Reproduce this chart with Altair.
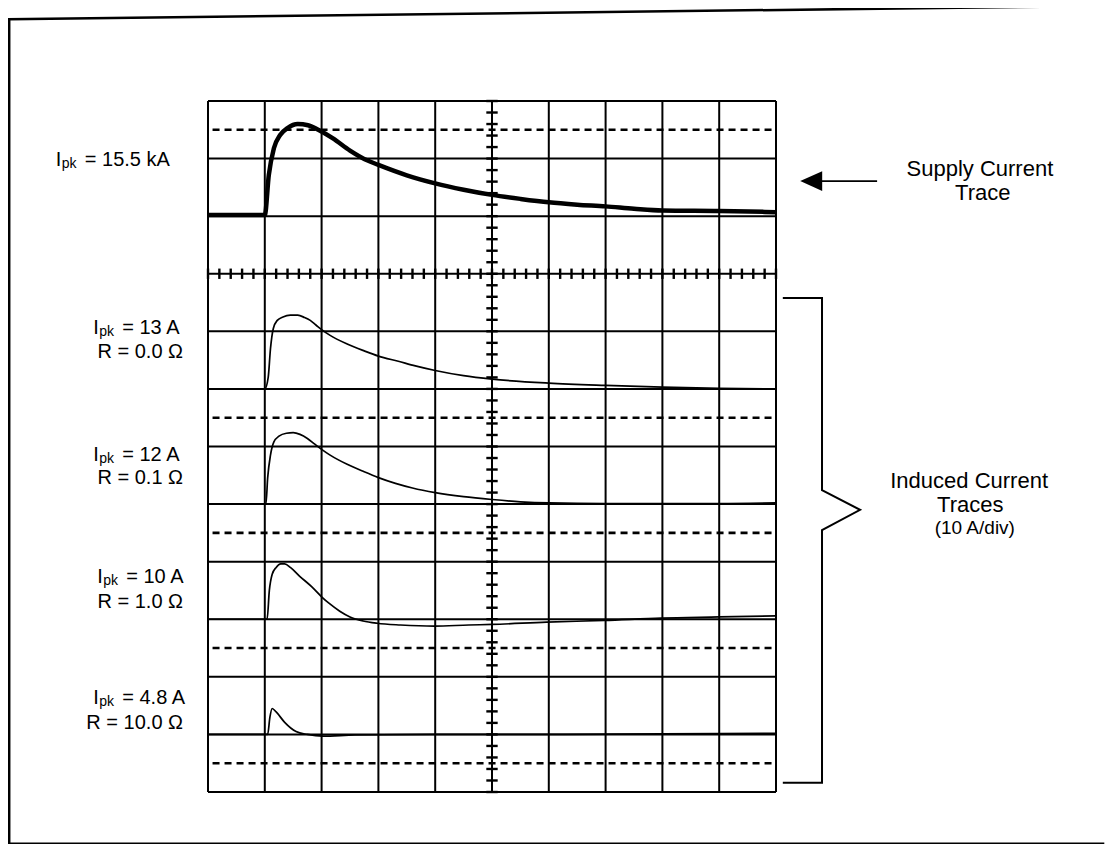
import altair as alt
import pandas as pd
import numpy as np

# ---------------- data ----------------
# time in screen divisions (0..10), current in trace units
supply_t = [0.0, 1.0, 1.07, 1.16, 1.27, 1.40, 1.58, 1.76, 1.94, 2.2, 2.5, 2.8, 3.0,
            3.5, 4.0, 4.5, 5.0, 5.5, 6.0, 6.5, 7.0, 7.5, 8.0, 9.0, 10.0]
supply_kA = [0.2, 0.2, 7.1, 11.8, 14.1, 15.3, 16.0, 15.8, 15.0, 13.5, 11.4, 9.7, 8.9,
             7.1, 5.7, 4.6, 3.7, 3.0, 2.4, 2.0, 1.7, 1.3, 1.0, 0.9, 0.7]

r00_t = [0.0, 1.0, 1.06, 1.1, 1.15, 1.22, 1.32, 1.45, 1.58, 1.7, 1.8, 1.9, 2.0, 2.15,
         2.45, 2.75, 3.0, 3.35, 3.65, 4.0, 4.5, 5.0, 6.0, 7.0, 8.0, 9.0, 10.0]
r00_A = [0.0, 0.0, 2.0, 7.0, 10.5, 11.9, 12.5, 12.8, 12.8, 12.4, 11.9, 11.1, 10.3, 9.3,
         7.8, 6.6, 5.7, 4.8, 4.0, 3.2, 2.3, 1.7, 1.0, 0.6, 0.3, 0.1, 0.0]

r01_t = [0.0, 1.02, 1.05, 1.1, 1.16, 1.25, 1.38, 1.5, 1.62, 1.75, 1.88, 2.0, 2.15,
         2.45, 2.75, 3.0, 3.3, 3.6, 4.0, 4.5, 5.0, 5.5, 6.0, 7.0, 8.0, 9.0, 10.0]
r01_A = [0.0, 0.0, 4.5, 8.5, 10.8, 11.8, 12.3, 12.4, 12.1, 11.4, 10.4, 9.5, 8.5,
         6.9, 5.6, 4.6, 3.6, 2.8, 2.0, 1.3, 0.8, 0.4, 0.2, 0.1, 0.1, 0.1, 0.2]

r10_t = [0.0, 1.04, 1.08, 1.13, 1.2, 1.28, 1.35, 1.45, 1.61, 1.82, 2.0, 2.14, 2.32,
         2.5, 2.73, 2.98, 3.39, 3.98, 4.59, 5.0, 5.96, 6.98, 7.98, 9.0, 10.0]
r10_A = [0.0, 0.0, 5.0, 7.8, 9.0, 9.6, 9.6, 9.0, 7.5, 5.7, 3.9, 2.7, 1.4,
         0.4, -0.3, -0.7, -1.0, -1.2, -1.0, -0.9, -0.5, -0.2, 0.2, 0.4, 0.6]

r100_t = [0.0, 1.05, 1.09, 1.13, 1.2, 1.35, 1.55, 1.75, 2.02, 2.59, 4.0, 6.0, 8.0, 10.0]
r100_A = [0.0, 0.0, 3.0, 4.5, 3.9, 2.1, 0.5, 0.0, -0.3, -0.1, 0.0, 0.0, 0.1, 0.2]

ipk_values = ["= 15.5 kA", "= 13 A", "= 12 A", "= 10 A", "= 4.8 A"]
r_values = ["R = 0.0 Ω", "R = 0.1 Ω", "R = 1.0 Ω", "R = 10.0 Ω"]

# ---------------- layout (screen divisions) ----------------
N_X, N_Y = 10, 12
baselines = [10, 7, 5, 3, 1]          # zero line of each trace
units_per_div = 10                    # 10 kA/div and 10 A/div
dashed_rows = [0.5, 2.5, 4.5, 6.5, 11.5]
center_x, tick_row = 5, 9

W, H = 568, 691
xs = alt.Scale(domain=[0, N_X], range=[0, W], nice=False, zero=False)
ys = alt.Scale(domain=[0, N_Y], range=[H, 0], nice=False, zero=False)
FONT = "Liberation Sans"


def X(f="x"):
    return alt.X(f"{f}:Q", scale=xs, axis=None)


def Y(f="y"):
    return alt.Y(f"{f}:Q", scale=ys, axis=None)


# ---------------- traces ----------------
rows = []
series = [("supply", supply_t, supply_kA), ("r00", r00_t, r00_A), ("r01", r01_t, r01_A),
          ("r10", r10_t, r10_A), ("r100", r100_t, r100_A)]
for (name, ts, vs), base in zip(series, baselines):
    for i, (t, v) in enumerate(zip(ts, vs)):
        rows.append({"trace": name, "i": i, "x": t, "y": base + v / units_per_div})
traces = pd.DataFrame(rows)

supply_line = alt.Chart(traces[traces.trace == "supply"]).mark_line(
    color="black", strokeWidth=4.5, interpolate="monotone"
).encode(x=X(), y=Y(), order="i:Q")

induced_lines = alt.Chart(traces[traces.trace != "supply"]).mark_line(
    color="black", strokeWidth=1.7, interpolate="monotone"
).encode(x=X(), y=Y(), detail="trace:N", order="i:Q")

# ---------------- graticule ----------------
vgrid = alt.Chart(pd.DataFrame({"x": list(range(N_X + 1)), "y": 0, "y2": N_Y})).mark_rule(
    color="black", strokeWidth=2).encode(x=X(), y=Y(), y2="y2:Q")
hgrid = alt.Chart(pd.DataFrame({"y": list(range(N_Y + 1)), "x": 0, "x2": N_X})).mark_rule(
    color="black", strokeWidth=2).encode(y=Y(), x=X(), x2="x2:Q")
dashed = alt.Chart(pd.DataFrame({"y": dashed_rows, "x": 0.08, "x2": N_X})).mark_rule(
    color="black", strokeWidth=2.6, strokeDash=[7, 5]).encode(y=Y(), x=X(), x2="x2:Q")

tick_y = np.round(np.arange(0, N_Y + 0.001, 0.2), 2)
vt = alt.Chart(pd.DataFrame({"y": tick_y, "x": center_x - 0.1, "x2": center_x + 0.1})).mark_rule(
    color="black", strokeWidth=2.4).encode(y=Y(), x=X(), x2="x2:Q")
tick_x = np.round(np.arange(0, N_X + 0.001, 0.2), 2)
ht = alt.Chart(pd.DataFrame({"x": tick_x, "y": tick_row - 0.09, "y2": tick_row + 0.09})).mark_rule(
    color="black", strokeWidth=2.4).encode(x=X(), y=Y(), y2="y2:Q")

# ---------------- annotations ----------------
ipk = pd.DataFrame({"x": [-2.68, -2.02, -2.02, -1.95, -2.02],
                    "y": [10.98, 8.06, 5.85, 3.73, 1.63],
                    "val": ipk_values, "I": "I", "pk": "pk"})
lab_I = alt.Chart(ipk).mark_text(align="left", baseline="middle", font=FONT, fontSize=20,
                                 color="black").encode(x=X(), y=Y(), text="I:N")
lab_pk = alt.Chart(ipk).mark_text(align="left", baseline="middle", font=FONT, fontSize=14,
                                  dx=6, dy=4, color="black").encode(x=X(), y=Y(), text="pk:N")
lab_val = alt.Chart(ipk).mark_text(align="left", baseline="middle", font=FONT, fontSize=20,
                                   dx=29, color="black").encode(x=X(), y=Y(), text="val:N")
rlab = pd.DataFrame({"x": -0.44, "y": [7.64, 5.45, 3.30, 1.20], "t": r_values})
lab_r = alt.Chart(rlab).mark_text(align="right", baseline="middle", font=FONT, fontSize=20,
                                  color="black").encode(x=X(), y=Y(), text="t:N")

right_txt = pd.DataFrame({
    "x": [13.59, 13.64, 13.40, 13.42, 13.50],
    "y": [10.82, 10.40, 5.40, 4.98, 4.58],
    "t": ["Supply Current", "Trace", "Induced Current", "Traces", "(10 A/div)"],
    "s": [22, 22, 22, 22, 19]})
lab_right = alt.Chart(right_txt).mark_text(align="center", baseline="middle", font=FONT,
                                           color="black").encode(
    x=X(), y=Y(), text="t:N", size=alt.Size("s:Q", scale=None, legend=None))

arrow_shaft = alt.Chart(pd.DataFrame({"x": [10.81], "x2": [11.78], "y": [10.61]})).mark_rule(
    color="black", strokeWidth=1.8).encode(x=X(), x2="x2:Q", y=Y())
arrow_head = alt.Chart(pd.DataFrame({"x": [10.62], "y": [10.61]})).mark_point(
    shape="M-1,0L1,-0.9L1,0.9Z", filled=True, size=484, color="black", opacity=1,
    strokeWidth=0).encode(x=X(), y=Y())

bracket = alt.Chart(pd.DataFrame({
    "i": list(range(7)),
    "x": [10.12, 10.81, 10.81, 11.48, 10.81, 10.81, 10.12],
    "y": [8.58, 8.58, 5.24, 4.90, 4.55, 0.16, 0.16]})).mark_line(
    color="black", strokeWidth=2).encode(x=X(), y=Y(), order="i:Q")

# page frame: open path (bottom -> left -> top), stopping just short of the page edge
frame = alt.Chart(pd.DataFrame({
    "i": [0, 1, 2, 3],
    "x": [15.78, -3.5, -3.5, 15.78],
    "y": [-0.9, -0.9, 13.42, 13.65]})).mark_line(
    color="black", strokeWidth=2.5).encode(x=X(), y=Y(), order="i:Q")

chart = alt.layer(
    frame, vgrid, hgrid, dashed, vt, ht, induced_lines, supply_line,
    lab_I, lab_pk, lab_val, lab_r, lab_right, arrow_shaft, arrow_head, bracket
).properties(
    width=W, height=H,
    autosize=alt.AutoSizeParams(type="none"),
    padding={"left": 200, "top": 93, "right": 333, "bottom": 52},
    background="white",
).configure_view(stroke=None)

chart.save("out.html", embed_options={"renderer": "svg", "actions": False})
